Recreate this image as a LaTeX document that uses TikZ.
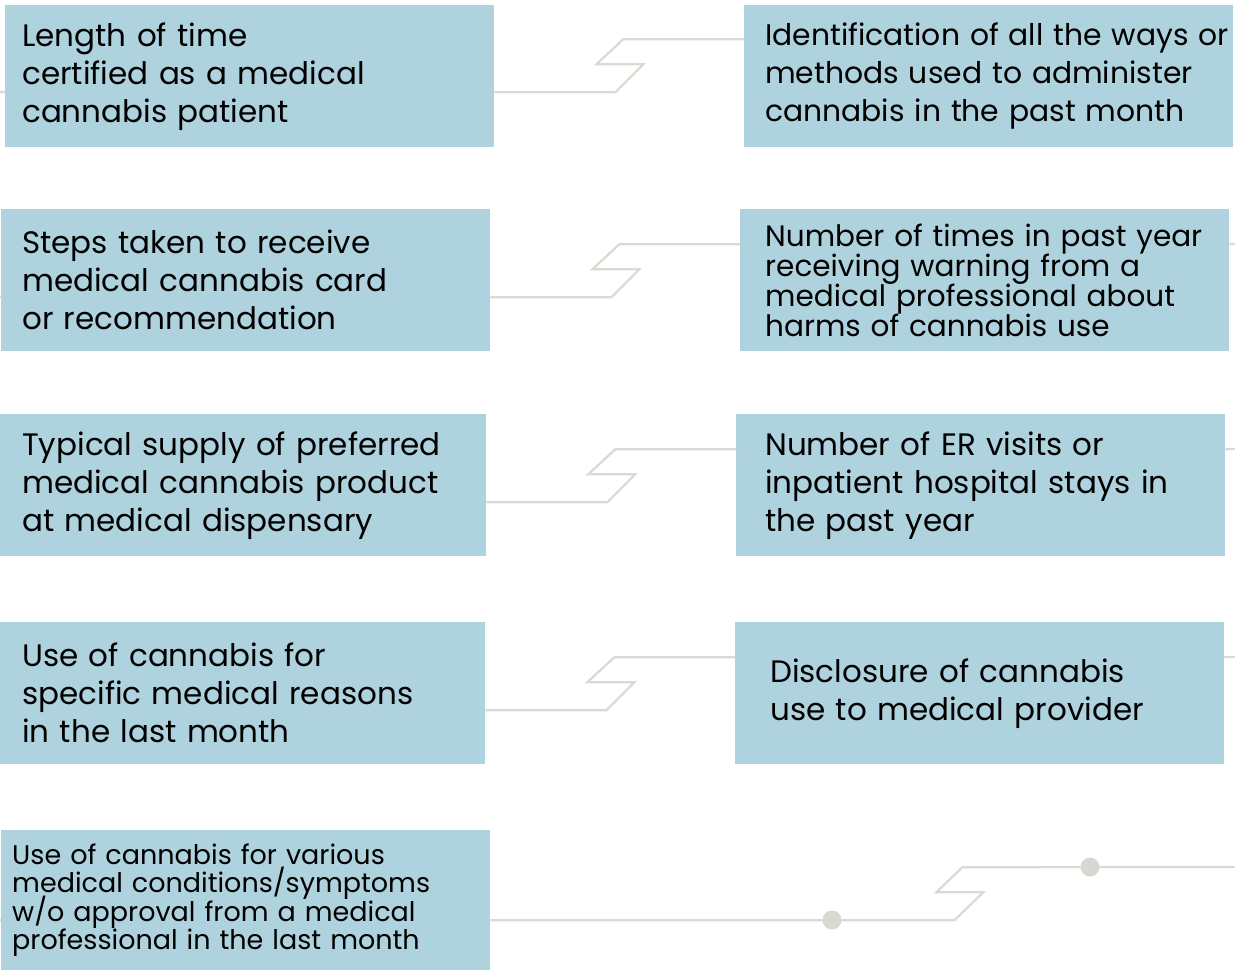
\documentclass[tikz,border=0pt]{standalone}
\usepackage{fontspec}
\setmainfont{Poppins}
\definecolor{boxblue}{RGB}{175,211,222}
\definecolor{linegray}{RGB}{218,218,211}
\definecolor{dotgray}{RGB}{216,216,210}
\newcommand{\tightlines}{\lineskiplimit=-30pt\lineskip=0pt}
\begin{document}
\begin{tikzpicture}[x=1pt,y=-1pt,
  box/.style={fill=boxblue,draw=none,minimum width=489pt,minimum height=142pt,inner xsep=17pt,
    text width=455pt,align=left,anchor=north west,font=\fontsize{31}{38}\selectfont\tightlines},
  tightbox/.style={box,font=\fontsize{29.5}{30}\selectfont\tightlines},
  smallbox/.style={box,font=\fontsize{27}{28.4}\selectfont\tightlines},
  conn/.style={draw=linegray,line width=2.2pt},
  dot/.style={circle,fill=dotgray,minimum size=19pt,inner sep=0pt}]
\useasboundingbox (0,0) rectangle (1235,971);
% left boxes
\node[box] (L1) at (5,5) {Length of time\\certified as a medical\\cannabis patient};
\node[box,inner xsep=21pt,text width=447pt] (L2) at (1,209) {Steps taken to receive\\medical cannabis card\\or recommendation};
\node[box,minimum width=486pt,inner xsep=22pt,text width=442pt] (L3) at (0,414) {Typical supply of preferred\\medical cannabis product\\at medical dispensary};
\node[box,minimum width=485pt,inner xsep=22pt,text width=441pt] (L4) at (0,622) {Use of cannabis for\\specific medical reasons\\in the last month};
\node[smallbox,minimum height=140pt,inner xsep=11pt,text width=467pt] (L5) at (1,830) {Use of cannabis for various\\medical conditions/symptoms\\w/o approval from a medical\\professional in the last month};
% right boxes
\node[box,inner xsep=21pt,text width=447pt,font=\fontsize{29.8}{38}\selectfont\tightlines] (R1) at (744,5) {\makebox[447pt][l]{Identification of all the ways or}\\methods used to administer\\cannabis in the past month};
\node[tightbox,inner xsep=25pt,text width=439pt] (R2) at (740,209) {Number of times in past year\\receiving warning from a\\medical professional about\\harms of cannabis use};
\node[box,inner xsep=29pt,text width=431pt] (R3) at (736,414) {Number of ER visits or\\inpatient hospital stays in\\the past year};
\node[box,inner xsep=35pt,text width=419pt] (R4) at (735,622) {Disclosure of cannabis\\use to medical provider};
% free ends
\coordinate (e1) at (0,92);
\coordinate (e2) at (0,297);
\coordinate (e5) at (0,920);
\coordinate (f2) at (1235,244);
\coordinate (f3) at (1235,449);
\coordinate (f4) at (1235,657);
\coordinate (f5) at (1235,867);
% connectors
\draw[conn] ([yshift=-16pt]L1.east) -- ++(121,0) -- ++(28,-28) -- ++(-47,0) -- ++(27,-25) -- ([yshift=37pt]R1.west);
\draw[conn] ([yshift=-17pt]L2.east) -- ++(121,0) -- ++(28,-28) -- ++(-47,0) -- ++(27,-25) -- ([yshift=36pt]R2.west);
\draw[conn] ([yshift=-17pt]L3.east) -- ++(121,0) -- ++(28,-28) -- ++(-47,0) -- ++(27,-25) -- ([yshift=36pt]R3.west);
\draw[conn] ([yshift=-17pt]L4.east) -- ++(121,0) -- ++(28,-28) -- ++(-47,0) -- ++(27,-25) -- ([yshift=36pt]R4.west);
\draw[conn] ([yshift=-20pt]L5.east) -- ++(464,0) -- ++(29,-28) -- ++(-47,0) -- ++(26,-25) -- (f5);
\node[dot] (d1) at (832,920) {};
\node[dot] (d2) at (1090,867) {};
% stubs
\draw[conn] (e1) -- ([yshift=-16pt]L1.west);
\draw[conn] (e2) -- ([yshift=-17pt]L2.west);
\draw[conn] (e5) -- ([yshift=-20pt]L5.west);
\draw[conn] ([yshift=36pt]R2.east) -- (f2);
\draw[conn] ([yshift=36pt]R3.east) -- (f3);
\draw[conn] ([yshift=36pt]R4.east) -- (f4);
\end{tikzpicture}
\end{document}
